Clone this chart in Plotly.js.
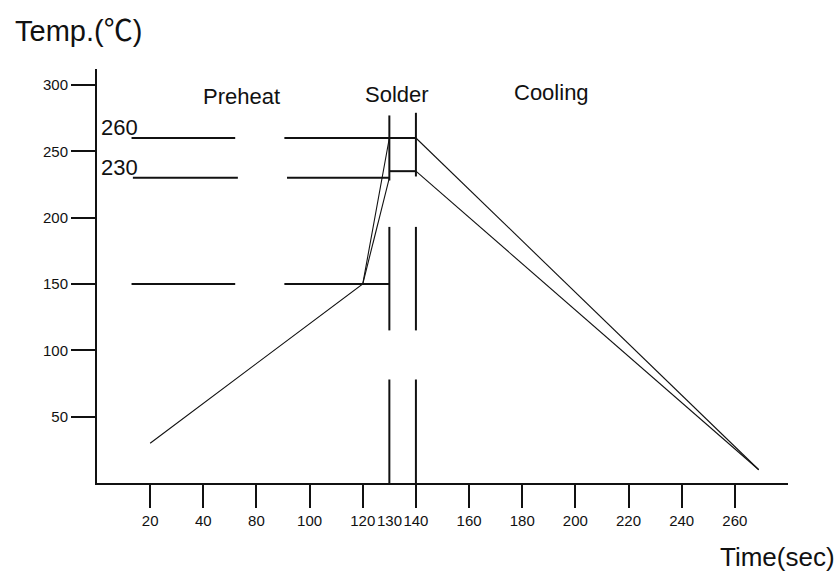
<!DOCTYPE html>
<html>
<head>
<meta charset="utf-8">
<script src="https://cdn.plot.ly/plotly-3.0.1.min.js"></script>
<style>html,body{margin:0;padding:0;background:#fff;}#chart{width:839px;height:582px;}</style>
</head>
<body>
<div id="chart"></div>
<script>
// Reflow profile (time in s, temperature in degC)
const peakX = [40, 120, 130, null, 140, 269];
const peakY = [30, 150, 260, null, 260, 10];
const lowX = [120, 130, null, 140, 269];
const lowY = [150, 230, null, 235, 10];

// Reference level lines
const level260X = [33, 72, null, 90.5, 140];
const level260Y = [260, 260, null, 260, 260];
const level230X = [33.5, 73, null, 91.5, 130, null, 130, 140];
const level230Y = [230, 230, null, 230, 230, null, 235, 235];
const level150X = [33, 72, null, 90.5, 130];
const level150Y = [150, 150, null, 150, 150];

// Zone boundary verticals
const vert130X = [130, 130, null, 130, 130, null, 130, 130];
const vert130Y = [277, 228, null, 193, 115, null, 78, 0];
const vert140X = [140, 140, null, 140, 140, null, 140, 140];
const vert140Y = [279, 231, null, 193, 115, null, 78, 0];

// Axis ticks
const xTickVals = [40, 60, 80, 100, 120, 140, 160, 180, 200, 220, 240, 260];
const xTickText = ["20", "40", "80", "100", "120", "140", "160", "180", "200", "220", "240", "260"];
const yTickVals = [50, 100, 150, 200, 250, 300];

// Labels
const zoneNames = ["Preheat", "Solder", "Cooling"];
const zoneX = [74.2, 133, 191];
const zoneY = [291.5, 293, 294.5];
const levelLabels = ["260", "230"];
const levelLabelY = [260, 230];

const FONT = "Liberation Sans, Arial, Noto Sans CJK SC, sans-serif";
const thin = {color: "#111", width: 1.1};
const thick = {color: "#111", width: 2};

const traces = [
  {x: peakX, y: peakY, mode: "lines", line: thin, connectgaps: false},
  {x: lowX, y: lowY, mode: "lines", line: thin, connectgaps: false},
  {x: level260X, y: level260Y, mode: "lines", line: thick},
  {x: level230X, y: level230Y, mode: "lines", line: thick},
  {x: level150X, y: level150Y, mode: "lines", line: thick},
  {x: vert130X, y: vert130Y, mode: "lines", line: thick},
  {x: vert140X, y: vert140Y, mode: "lines", line: thick}
];

const annotations = [];
zoneNames.forEach((t, i) => annotations.push({
  x: zoneX[i], y: zoneY[i], xref: "x", yref: "y", text: t, showarrow: false,
  font: {family: FONT, size: 22, color: "#111"}
}));
levelLabels.forEach((t, i) => annotations.push({
  x: 20.6, y: levelLabelY[i], xref: "x", yref: "y", text: t, showarrow: false,
  xanchor: "left", yanchor: "bottom", yshift: -4,
  font: {family: FONT, size: 22, color: "#111"}
}));
annotations.push({x: 130, y: 0, xref: "x", yref: "paper", text: "130", showarrow: false,
  yanchor: "top", yshift: -27, font: {family: FONT, size: 15, color: "#111"}});
annotations.push({x: 0, y: 1, xref: "paper", yref: "paper", text: "Temp.(℃)", showarrow: false,
  xanchor: "left", yanchor: "middle", xshift: -84, yshift: 38,
  font: {family: FONT, size: 29, color: "#111"}});
annotations.push({x: 1, y: 0, xref: "paper", yref: "paper", text: "Time(sec)", showarrow: false,
  xanchor: "right", yanchor: "middle", xshift: 49, yshift: -74,
  font: {family: FONT, size: 26, color: "#111"}});

const layout = {
  width: 839, height: 582,
  margin: {l: 97, r: 51, t: 69, b: 99},
  paper_bgcolor: "#fff", plot_bgcolor: "#fff",
  showlegend: false,
  font: {family: FONT, size: 15, color: "#111"},
  xaxis: {
    range: [20, 280], showgrid: false, zeroline: false,
    showline: true, linecolor: "#111", linewidth: 2,
    ticks: "outside", ticklen: 23, tickwidth: 2, tickcolor: "#111",
    tickmode: "array", tickvals: xTickVals, ticktext: xTickText,
    tickfont: {family: FONT, size: 15, color: "#111"}
  },
  yaxis: {
    range: [0, 312], showgrid: false, zeroline: false,
    showline: true, linecolor: "#111", linewidth: 2,
    ticks: "outside", ticklen: 24, tickwidth: 2, tickcolor: "#111",
    tickmode: "array", tickvals: yTickVals,
    tickfont: {family: FONT, size: 15, color: "#111"}
  },
  annotations: annotations
};

Plotly.newPlot("chart", traces, layout, {displayModeBar: false, staticPlot: true});
</script>
</body>
</html>
